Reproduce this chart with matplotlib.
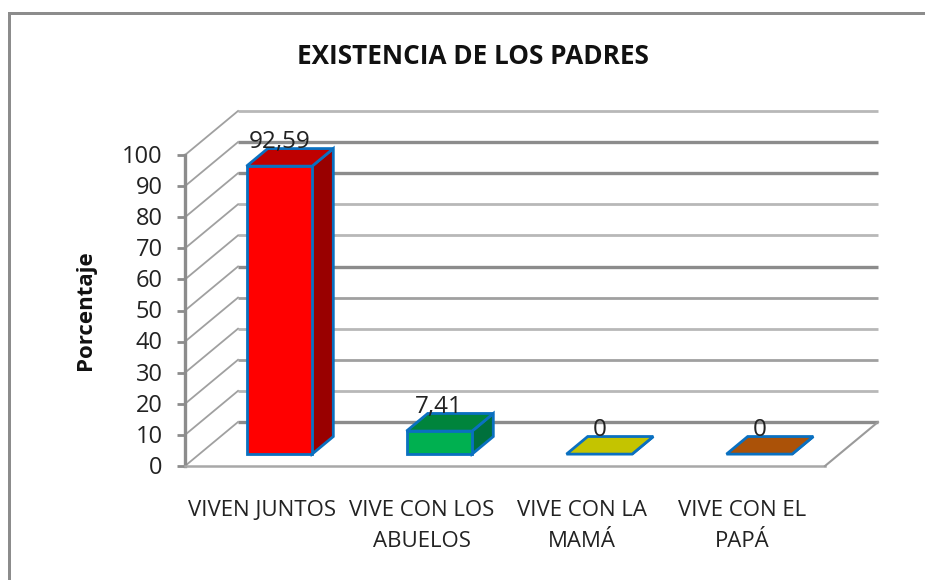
import matplotlib
matplotlib.use("Agg")
import matplotlib.pyplot as plt
from matplotlib.patches import Polygon, Rectangle

categories = ["VIVEN JUNTOS", "VIVE CON LOS\nABUELOS", "VIVE CON LA\nMAMÁ", "VIVE CON EL\nPAPÁ"]
values = [92.59, 7.41, 0, 0]
value_labels = ["92,59", "7,41", "0", "0"]
y_ticks = list(range(0, 101, 10))
dark_lines = [0, 50, 80, 90]
mid_lines = [20, 40]

front_colors = ["#ff0000", "#00b050", "#c4c400", "#ab5208"]
top_colors = ["#bf0000", "#00843c", "#c4c400", "#ab5208"]
side_colors = ["#990000", "#00703c", "#c4c400", "#ab5208"]
edge_blue = "#0a70c0"
grid_gray = "#8c8c8c"

plt.rcParams["font.family"] = ["Open Sans", "DejaVu Sans"]

W, H = 925, 580
fig = plt.figure(figsize=(W / 100, H / 100), dpi=100)
fig.patch.set_facecolor("white")

# outer chart frame, only the left and top edges show
fig.add_artist(Rectangle((8 / W, -0.1), 3 / W, 1 + 0.1 - 12 / H, transform=fig.transFigure,
                         facecolor=grid_gray, edgecolor="none"))
fig.add_artist(Rectangle((8 / W, 1 - 14.5 / H), 1, 2.5 / H, transform=fig.transFigure,
                         facecolor=grid_gray, edgecolor="none"))

ax = fig.add_axes([185 / W, 1 - 466 / H, 640 / W, 311 / H])
ax.set_xlim(0, 4)
ax.set_ylim(0, 100)
ax.axis("off")

# oblique offset of the back wall, in data units
DX = 53 / 160
DY = 44 / 3.11


def proj(x, y, d):
    return x + DX * d, y + DY * d


# walls
for t in y_ticks:
    if t in dark_lines:
        lw, col = 2.4, grid_gray
    elif t in mid_lines:
        lw, col = 2.0, "#a0a0a0"
    else:
        lw, col = 2.0, "#b8b8b8"
    x0, y0 = proj(0, t, 1)
    x1, y1 = proj(4, t, 1)
    ax.plot([x0, x1], [y0, y1], color=col, lw=lw, clip_on=False, solid_capstyle="butt", zorder=1)
    xa, ya = proj(0, t, 0)
    ax.plot([xa, x0], [ya, y0], color="#a0a0a0", lw=1.3, clip_on=False, zorder=1)
    ax.plot([-0.05, 0], [t, t], color=grid_gray, lw=2, clip_on=False, solid_capstyle="butt", zorder=1)
    ax.text(-0.14, t - 0.6, str(t), ha="right", va="center", fontsize=17, color="#222222", clip_on=False)

ax.plot([0, 0], [0, 100], color=grid_gray, lw=2.4, clip_on=False, zorder=1)
ax.plot([0, 4], [0, 0], color="#a8a8a8", lw=1.8, clip_on=False, zorder=1)
xr, yr = proj(4, 0, 1)
ax.plot([4, xr], [0, yr], color="#9a9a9a", lw=1.5, clip_on=False, zorder=1)

# bars
bar_w = 0.41
d0, d1 = 0.27, 0.67
for i, v in enumerate(values):
    left = i + 0.5 - bar_w / 2
    right = left + bar_w
    top = [proj(left, v, d0), proj(right, v, d0), proj(right, v, d1), proj(left, v, d1)]
    side = [proj(right, 0, d0), proj(right, v, d0), proj(right, v, d1), proj(right, 0, d1)]
    front = [proj(left, 0, d0), proj(right, 0, d0), proj(right, v, d0), proj(left, v, d0)]
    ax.add_patch(Polygon(side, facecolor=side_colors[i], edgecolor=edge_blue, lw=2.0, clip_on=False, zorder=3))
    ax.add_patch(Polygon(top, facecolor=top_colors[i], edgecolor=edge_blue, lw=2.0, clip_on=False, zorder=3))
    if v > 0:
        ax.add_patch(Polygon(front, facecolor=front_colors[i], edgecolor=edge_blue, lw=2.0, clip_on=False, zorder=4))
    lx = proj((left + right) / 2, v, d0)[0]
    ly = proj(left, v, d1)[1]
    ax.text(lx, ly + 0.3, value_labels[i], ha="center", va="baseline", fontsize=17.5,
            color="#222222", clip_on=False, zorder=5)

for i, c in enumerate(categories):
    ax.text(i + 0.5 - 0.02, -11, c, ha="center", va="top", fontsize=16, color="#222222",
            linespacing=1.6, clip_on=False)

fig.text(473 / W, 1 - 56 / H, "EXISTENCIA DE LOS PADRES", ha="center", va="center",
         fontsize=18.8, fontweight="bold", color="#111111")
fig.text(85 / W, 1 - 310 / H, "Porcentaje", ha="center", va="center", rotation=90,
         fontsize=16, fontweight="bold", color="#111111")

fig.savefig("out.png", dpi=100)
